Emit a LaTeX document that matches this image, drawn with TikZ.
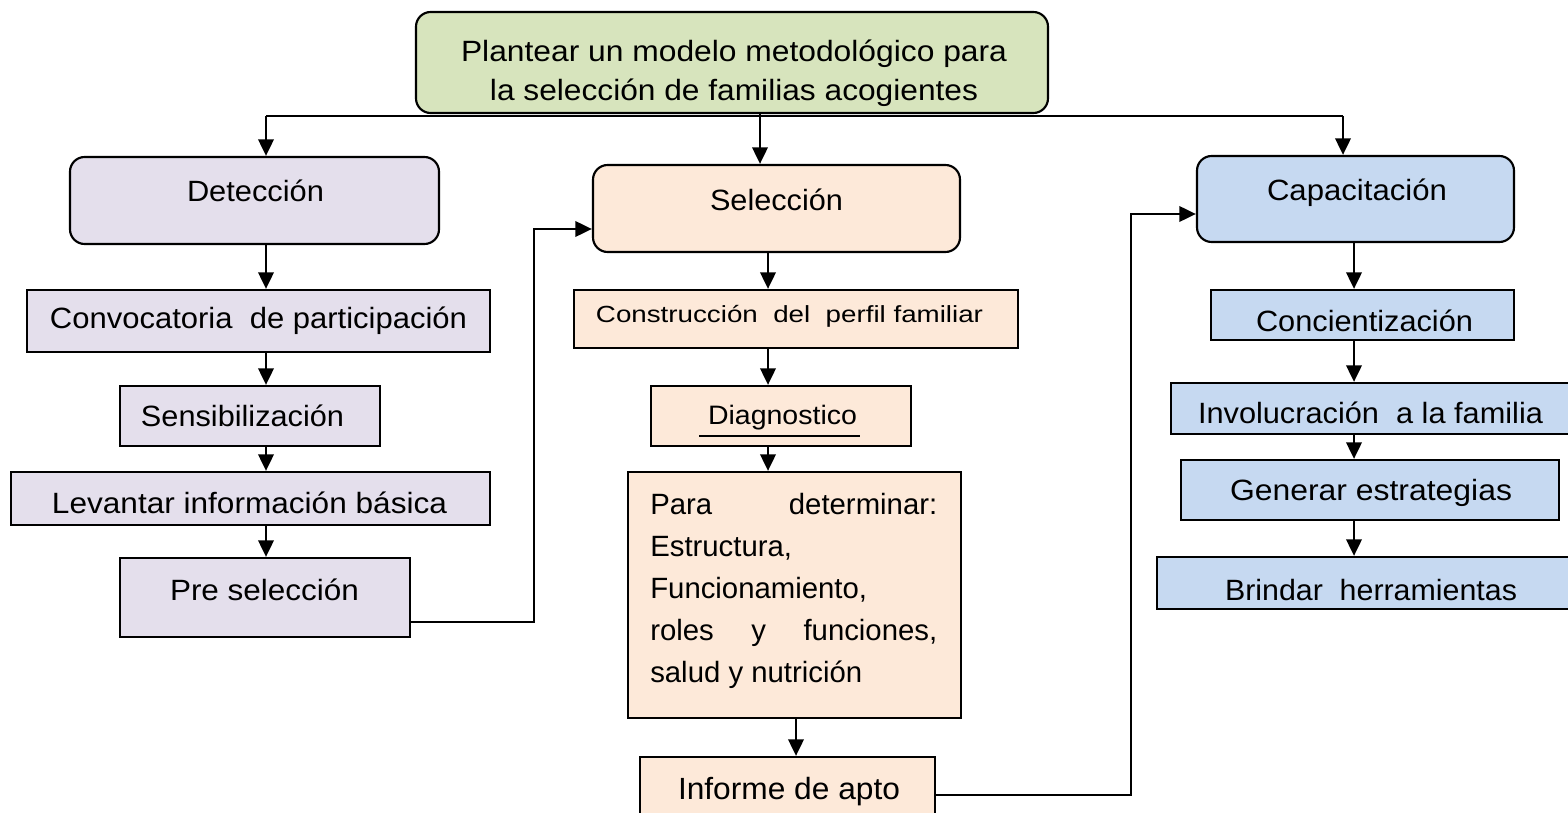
\documentclass[tikz,border=0pt]{standalone}
\usepackage{fontspec}
\setmainfont{Liberation Sans}
\usepackage{graphicx}
\usetikzlibrary{arrows.meta,fit}
\newlength{\px}\setlength{\px}{0.75pt}
\newcommand{\fw}[2]{\resizebox{#1\px}{\height}{#2}}
\definecolor{cgreen}{HTML}{D7E4BD}
\definecolor{clav}{HTML}{E4DFEC}
\definecolor{cpeach}{HTML}{FDE9D9}
\definecolor{cblue}{HTML}{C6D9F1}
\begin{document}
\begin{tikzpicture}[x=0.75pt,y=-0.75pt,
  box/.style={draw=black, line width=1.6pt, inner sep=0pt},
  rbox/.style={box, rounded corners=11pt},
  conn/.style={draw=black, line width=2.1pt},
  arr/.style={conn, -{Triangle[length=12.5pt,width=11.5pt]}},
  txt/.style={inner sep=0pt, anchor=base, font=\fontsize{22pt}{26pt}\selectfont},
  ptxt/.style={inner sep=0pt, anchor=base west, font=\fontsize{22pt}{26pt}\selectfont},
]
\useasboundingbox (0,0) rectangle (1568,813);

% helper coordinates
\coordinate (bus) at (0,116);
\coordinate (xL) at (266,0);
\coordinate (xM) at (760,0);
\coordinate (xR) at (1343,0);
\coordinate (xS) at (768,0);
\coordinate (xP) at (796,0);
\coordinate (xC) at (1354,0);
\coordinate (j1) at (534,229);
\coordinate (j2) at (1131,214);
\coordinate (y1) at (0,622);
\coordinate (y2) at (0,795);

% bus line behind the top box
\draw[conn] (xL |- bus) -- (xR |- bus);

% boxes
\node[rbox, fill=cgreen, fit={(416,12) (1048,113)}] (top) {};
\node[rbox, fill=clav, fit={(70,157) (439,244)}] (det) {};
\node[box, fill=clav, fit={(27,290) (490,352)}] (conv) {};
\node[box, fill=clav, fit={(120,386) (380,446)}] (sens) {};
\node[box, fill=clav, fit={(11,472) (490,525)}] (lev) {};
\node[box, fill=clav, fit={(120,558) (410,637)}] (pre) {};

\node[rbox, fill=cpeach, fit={(593,165) (960,252)}] (sel) {};
\node[box, fill=cpeach, fit={(574,290) (1018,348)}] (cons) {};
\node[box, fill=cpeach, fit={(651,386) (911,446)}] (diag) {};
\node[box, fill=cpeach, fit={(628,472) (961,718)}] (para) {};
\node[box, fill=cpeach, fit={(640,757) (935,816)}] (inf) {};

\node[rbox, fill=cblue, fit={(1197,156) (1514,242)}] (cap) {};
\node[box, fill=cblue, fit={(1211,290) (1514,340)}] (conc) {};
\node[box, fill=cblue, fit={(1171,383) (1572,434)}] (inv) {};
\node[box, fill=cblue, fit={(1181,460) (1559,520)}] (gen) {};
\node[box, fill=cblue, fit={(1157,557) (1572,609)}] (brin) {};

% texts
\begin{scope}
\clip (416,12) rectangle (1048,112);
\node[txt] (t-top1) at (734,62) {\fw{546}{Plantear un modelo metodológico para}};
\node[txt] (t-top2) at (734,101) {\fw{488}{la selección de familias acogientes}};
\end{scope}

\node[txt] (t-det) at (255.5,202) {\fw{137}{Detección}};
\node[txt] (t-conv) at (258.5,328) {\fw{417}{Convocatoria \ de participación}};
\node[txt] (t-sens) at (242.5,426) {\fw{203}{Sensibilización}};
\node[txt] (t-lev) at (249.5,513) {\fw{395}{Levantar información básica}};
\node[txt] (t-pre) at (264.5,600) {\fw{189}{Pre selección}};

\node[txt] (t-sel) at (776.5,211) {\fw{133}{Selección}};
\node[txt, font=\fontsize{17.5pt}{21pt}\selectfont] (t-cons) at (789.5,322) {\fw{387}{Construcción \ del \ perfil familiar}};
\node[txt, font=\fontsize{20pt}{24pt}\selectfont] (t-diag) at (782.5,424) {\fw{149}{Diagnostico}};
\draw[line width=0.8pt] (699,436) -- (860,436);
\node[ptxt] (p1) at (650,514) {\hbox to 287\px{Para\hfill determinar:}};
\node[ptxt] (p2) at (650,556) {Estructura,};
\node[ptxt] (p3) at (650,598) {Funcionamiento,};
\node[ptxt] (p4) at (650,640) {\hbox to 287\px{roles\hfill y\hfill funciones,}};
\node[ptxt] (p5) at (650,682) {salud y nutrición};
\node[txt, font=\fontsize{23pt}{27pt}\selectfont] (t-inf) at (789,799) {\fw{222}{Informe de apto}};

\node[txt] (t-cap) at (1357,201) {\fw{180}{Capacitación}};
\node[txt] (t-conc) at (1364.5,331) {\fw{217}{Concientización}};
\node[txt] (t-inv) at (1370.5,423) {\fw{345}{Involucración \ a la familia}};
\node[txt] (t-gen) at (1371,500) {\fw{282}{Generar estrategias}};
\node[txt] (t-brin) at (1371,600) {\fw{292}{Brindar \ herramientas}};

% top level arrows
\draw[arr] (xL |- bus) -- (det.north -| xL);
\draw[arr] (top.south -| xM) -- (sel.north -| xM);
\draw[arr] (xR |- bus) -- (cap.north -| xR);

% left column
\draw[arr] (det.south -| xL) -- (conv.north -| xL);
\draw[arr] (conv.south -| xL) -- (sens.north -| xL);
\draw[arr] (sens.south -| xL) -- (lev.north -| xL);
\draw[arr] (lev.south -| xL) -- (pre.north -| xL);

% middle column
\draw[arr] (sel.south -| xS) -- (cons.north -| xS);
\draw[arr] (cons.south -| xS) -- (diag.north -| xS);
\draw[arr] (diag.south -| xS) -- (para.north -| xS);
\draw[arr] (para.south -| xP) -- (inf.north -| xP);

% right column
\draw[arr] (cap.south -| xC) -- (conc.north -| xC);
\draw[arr] (conc.south -| xC) -- (inv.north -| xC);
\draw[arr] (inv.south -| xC) -- (gen.north -| xC);
\draw[arr] (gen.south -| xC) -- (brin.north -| xC);

% cross connectors
\draw[arr] (pre.east |- y1) -| (j1) -- (sel.west |- j1);
\draw[arr] (inf.east |- y2) -| (j2) -- (cap.west |- j2);
\end{tikzpicture}
\end{document}
